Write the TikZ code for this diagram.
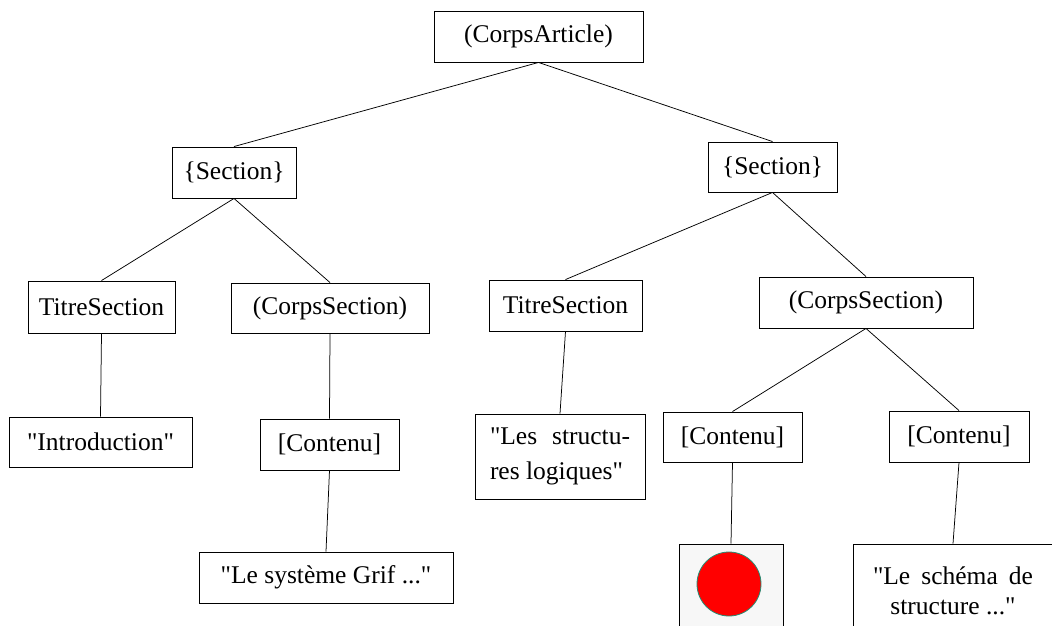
\documentclass[tikz,border=0pt]{standalone}
\usepackage{fontspec}
\setmainfont{Liberation Serif}[Ligatures=TeXOff]
\usetikzlibrary{calc}
\definecolor{bordrond}{rgb}{0.15,0.55,0.45}
\definecolor{fondimage}{gray}{0.97}
\tikzset{
noeud/.style={rectangle,draw=black,line width=0.9pt,inner sep=0pt,minimum height=51pt,font=\fontsize{25.5}{35}\selectfont},
feuille/.style={noeud,minimum height=94pt},
lien/.style={draw=black,line width=0.75pt},
}

\begin{document}
\begin{tikzpicture}[x=1pt,y=-1pt]
\useasboundingbox (0,0) rectangle (1052,626);
\clip (0,0) rectangle (1052,626);
\node[noeud,minimum width=209pt] (corps) at (538.5,36.5) {(CorpsArticle)};
\node[noeud,minimum width=124pt] (secA) at (234,172.5) {\{Section\}};
\node[noeud,minimum width=129pt,minimum height=50pt] (secB) at (772.5,167) {\{Section\}};
\node[noeud,minimum width=147pt,minimum height=52pt] (titA) at (101.5,307) {TitreSection};
\node[noeud,minimum width=198pt,minimum height=50pt] (corpsA) at (330,308) {(CorpsSection)};
\node[noeud,minimum width=153pt] (titB) at (565.5,305.5) {TitreSection};
\node[noeud,minimum width=214pt] (corpsB) at (866,302.5) {(CorpsSection)};
\node[noeud,minimum width=183pt,minimum height=50pt] (intro) at (100.5,442) {"Introduction"};
\node[noeud,minimum width=139pt] (contA) at (329.5,444.5) {[Contenu]};
\node[noeud,minimum width=170pt,minimum height=85pt,text width=140pt,align=justify] (titre) at (560,456.5) {"Les structu-\linebreak res logiques"};
\node[noeud,minimum width=139pt,minimum height=50pt] (contB) at (732.5,437) {[Contenu]};
\node[noeud,minimum width=140pt] (contC) at (959,436.5) {[Contenu]};
\node[noeud,minimum width=254pt] (grif) at (326,577.5) {"Le système Grif ..."};
\node[feuille,minimum width=104pt,fill=fondimage] (image) at (731,591) {};
\node[circle,fill=red,draw=bordrond,line width=0.8pt,minimum size=64pt,inner sep=0pt] (rond) at (729,584) {};
\node[feuille,minimum width=200pt,align=center,font=\fontsize{25.5}{29.5}\selectfont] (schema) at (953,591) {\makebox[160pt][s]{"Le schéma de}\\structure ..."};
\draw[lien] (corps.south) -- (secA.north);
\draw[lien] (corps.south) -- (secB.north);
\draw[lien] (secA.south) -- (titA.north);
\draw[lien] (secA.south) -- (corpsA.north);
\draw[lien] (secB.south) -- (titB.north);
\draw[lien] (secB.south) -- (corpsB.north);
\draw[lien] (titA.south) -- (intro.north);
\draw[lien] (corpsA.south) -- (contA.north);
\draw[lien] (contA.south) -- (grif.north);
\draw[lien] (titB.south) -- (titre.north);
\draw[lien] (corpsB.south) -- (contB.north);
\draw[lien] (corpsB.south) -- (contC.north);
\draw[lien] (contB.south) -- (image.north);
\draw[lien] (contC.south) -- (schema.north);
\end{tikzpicture}
\end{document}
